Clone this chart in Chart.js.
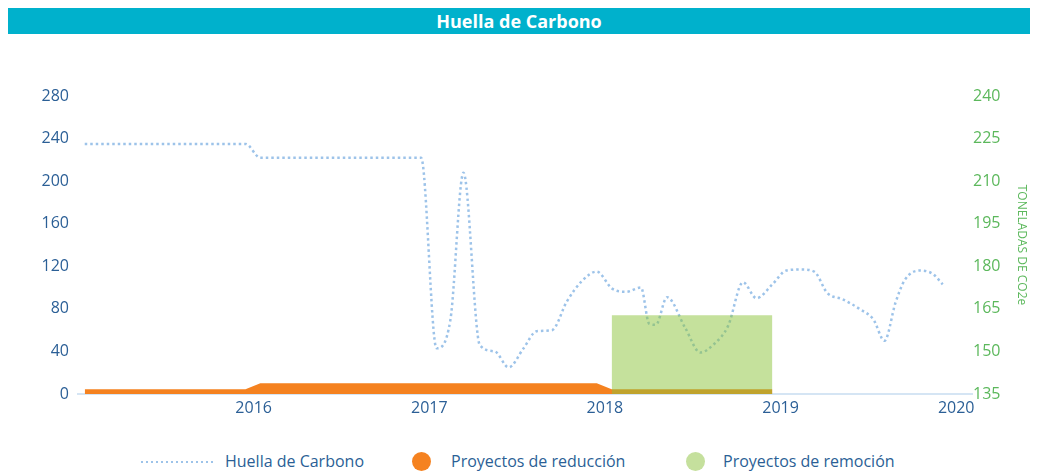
<!DOCTYPE html>
<html>
<head>
<meta charset="utf-8">
<script src="https://cdn.jsdelivr.net/npm/chart.js@4.4.1/dist/chart.umd.min.js"></script>
<style>
  body { margin: 0; background: #fff; font-family: 'Open Sans', sans-serif; }
  .title-bar {
    position: absolute; left: 8px; top: 8px; width: 1022px; height: 26px;
    background: #00b1cc; color: #fff; font-weight: 700; font-size: 18px;
    line-height: 26px; text-align: center;
  }
  .chart-box { position: absolute; left: 0; top: 40px; width: 1038px; height: 400px; }
  .legend-text { position: absolute; top: 450px; font-size: 16px; line-height: 22px; color: #2b5f96; white-space: nowrap; }
  .legend-dots {
    position: absolute; left: 141px; top: 461px; width: 73px; height: 2px;
    background: repeating-linear-gradient(to right, #9dc3e9 0 2px, transparent 2px 5px);
  }
  .legend-dot { position: absolute; top: 452px; width: 19px; height: 19px; border-radius: 50%; }
</style>
</head>
<body>
<div class="title-bar">Huella de Carbono</div>
<div class="chart-box"><canvas id="myChart"></canvas></div>

<div class="legend-dots"></div>
<div class="legend-text" style="left:225px">Huella de Carbono</div>
<div class="legend-dot" style="left:412px; background:#f58220"></div>
<div class="legend-text" style="left:451px">Proyectos de reducción</div>
<div class="legend-dot" style="left:686px; background:#c5e09d"></div>
<div class="legend-text" style="left:723px">Proyectos de remoción</div>

<script>
// monthly points (plotted mid-month)
const months = [
  '2015-01', '2015-02', '2015-03', '2015-04', '2015-05', '2015-06', '2015-07', '2015-08', '2015-09', '2015-10', '2015-11', '2015-12',
  '2016-01', '2016-02', '2016-03', '2016-04', '2016-05', '2016-06', '2016-07', '2016-08', '2016-09', '2016-10', '2016-11', '2016-12',
  '2017-01', '2017-02', '2017-03', '2017-04', '2017-05', '2017-06', '2017-07', '2017-08', '2017-09', '2017-10', '2017-11', '2017-12',
  '2018-01', '2018-02', '2018-03', '2018-04', '2018-05', '2018-06', '2018-07', '2018-08', '2018-09', '2018-10', '2018-11', '2018-12',
  '2019-01', '2019-02', '2019-03', '2019-04', '2019-05', '2019-06', '2019-07', '2019-08', '2019-09', '2019-10', '2019-11', '2019-12',
];

const reductionValues = [
  4.5, 4.5, 4.5, 4.5, 4.5, 4.5, 4.5, 4.5, 4.5, 4.5, 4.5, 4.5,
  10, 10, 10, 10, 10, 10, 10, 10, 10, 10, 10, 10,
  10, 10, 10, 10, 10, 10, 10, 10, 10, 10, 10, 10,
  4.5, 4.5, 4.5, 4.5, 4.5, 4.5, 4.5, 4.5, 4.5, 4.5, 4.5, 4.5,
  null, null, null, null, null, null, null, null, null, null, null, null,
];

const removalValues = [
  null, null, null, null, null, null, null, null, null, null, null, null,
  null, null, null, null, null, null, null, null, null, null, null, null,
  null, null, null, null, null, null, null, null, null, null, null, null,
  74, 74, 74, 74, 74, 74, 74, 74, 74, 74, 74, 74,
  null, null, null, null, null, null, null, null, null, null, null, null,
];

const footprintDates = [
  '2015-01', '2015-02', '2015-03', '2015-04', '2015-05', '2015-06', '2015-07', '2015-08', '2015-09', '2015-10', '2015-11', '2015-12',
  '2016-01', '2016-02', '2016-03', '2016-04', '2016-05', '2016-06', '2016-07', '2016-08', '2016-09', '2016-10', '2016-11', '2016-12',
  '2017-01-16', '2017-02-14', '2017-03-13', '2017-04-16', '2017-05-17', '2017-06-15',
  '2017-07-16', '2017-08-12', '2017-09-13', '2017-10-14', '2017-11-14', '2017-12-15',
  '2018-01-16', '2018-02-14', '2018-03-17', '2018-04-03', '2018-04-17', '2018-05-10',
  '2018-06-17', '2018-07-18', '2018-08-16', '2018-09-14', '2018-10-15', '2018-11-12', '2018-12-15',
  '2019-01-13', '2019-02-13', '2019-03-12', '2019-04-08', '2019-05-10', '2019-06-14',
  '2019-07-13', '2019-08-05', '2019-08-28', '2019-09-16', '2019-10-17', '2019-11-13', '2019-12-04',
];

const footprintValues = [
  235, 235, 235, 235, 235, 235, 235, 235, 235, 235, 235, 235,
  222, 222, 222, 222, 222, 222, 222, 222, 222, 222, 222, 222,
  43, 70, 208, 46, 40, 25,
  43, 59, 60, 87, 106, 115,
  99, 96, 100, 66, 65, 91,
  62, 39, 47, 64, 105, 90, 103,
  116, 117, 115, 95, 89, 80,
  70, 50, 86, 107, 116, 113, 103,
];

const yearTicks = [2016, 2017, 2018, 2019, 2020];

// date string -> fractional year for the linear x axis
function toYear(s) {
  const [y, m, d] = s.split('-').map(Number);
  const start = Date.UTC(y, 0, 1);
  return y + (Date.UTC(y, m - 1, d || 15) - start) / (Date.UTC(y + 1, 0, 1) - start);
}

const blueText = '#2b5f96';
const greenText = '#5cb85c';

Chart.defaults.font.family = "'Open Sans', sans-serif";

const ctx = document.getElementById('myChart');

new Chart(ctx, {
  type: 'line',
  data: {
    datasets: [
      {
        label: 'Proyectos de remoción',
        data: removalValues.map((v, i) => ({ x: toYear(months[i]), y: v })),
        yAxisID: 'y',
        fill: 'origin',
        backgroundColor: 'rgba(139, 195, 57, 0.5)',
        borderColor: 'rgba(0,0,0,0)',
        borderWidth: 0,
        pointRadius: 0,
        tension: 0,
        order: 0,
      },
      {
        label: 'Huella de Carbono',
        data: footprintValues.map((v, i) => ({ x: toYear(footprintDates[i]), y: v })),
        yAxisID: 'y',
        fill: false,
        borderColor: '#9dc3e9',
        borderWidth: 2.5,
        borderDash: [2.5, 3],
        pointRadius: 0,
        cubicInterpolationMode: 'monotone',
        order: 1,
      },
      {
        label: 'Proyectos de reducción',
        data: reductionValues.map((v, i) => ({ x: toYear(months[i]), y: v })),
        yAxisID: 'y',
        fill: 'origin',
        backgroundColor: '#f58220',
        borderColor: 'rgba(0,0,0,0)',
        borderWidth: 0,
        pointRadius: 0,
        tension: 0,
        order: 2,
      },
    ],
  },
  options: {
    responsive: true,
    maintainAspectRatio: false,
    animation: false,
    layout: { padding: { top: 56, bottom: 0, left: 0, right: 0 } },
    plugins: {
      legend: { display: false },
      tooltip: { enabled: false },
    },
    scales: {
      x: {
        type: 'linear',
        min: 2015,
        max: 2020.09,
        grid: { display: false, drawTicks: false },
        border: { display: true, color: '#d5e5f4', width: 2 },
        afterBuildTicks: (scale) => {
          scale.ticks = yearTicks.map((v) => ({ value: v }));
        },
        afterFit: (scale) => { scale.height = 46; },
        ticks: {
          padding: 5,
          color: blueText,
          font: { size: 16 },
          maxRotation: 0,
          autoSkip: false,
          callback: (v) => String(v),
        },
      },
      y: {
        position: 'left',
        min: 0,
        max: 280,
        grid: { display: false, drawTicks: false },
        border: { display: false },
        afterFit: (scale) => { scale.width = 78; },
        ticks: { stepSize: 40, padding: 9, color: blueText, font: { size: 16 } },
      },
      y1: {
        position: 'right',
        min: 135,
        max: 240,
        grid: { display: false, drawTicks: false },
        border: { display: false },
        afterFit: (scale) => { scale.width = 66; },
        ticks: { stepSize: 15, padding: 1, color: greenText, font: { size: 16 } },
        title: {
          display: true,
          text: 'TONELADAS DE CO2e',
          color: greenText,
          font: { size: 12 },
          padding: { top: 9, bottom: 0 },
        },
      },
    },
  },
});
</script>
</body>
</html>
